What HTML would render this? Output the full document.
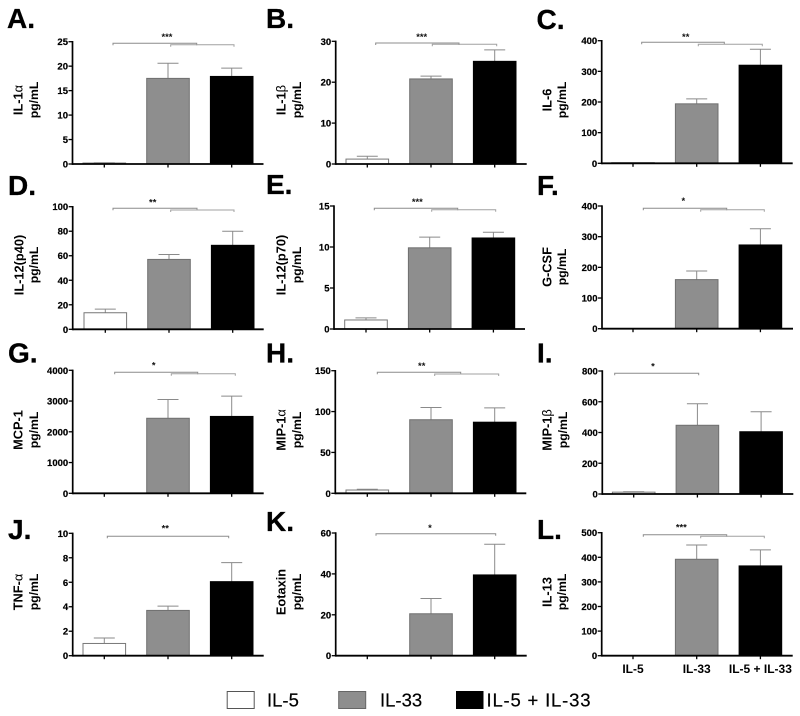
<!DOCTYPE html>
<html lang="en">
<head>
<meta charset="utf-8">
<title>Cytokine panels</title>
<style>
html,body{margin:0;padding:0;background:#fff;}
body{width:800px;height:716px;overflow:hidden;}
svg{display:block;filter:blur(0.35px);}
text{font-family:"Liberation Sans",Arial,sans-serif;}
</style>
</head>
<body>
<svg id="figure" xmlns="http://www.w3.org/2000/svg" width="800" height="716" viewBox="0 0 800 716">
  <rect x="0" y="0" width="800" height="716" fill="#fff"/>
  <g>
    <g>
      <rect x="227.2" y="691.5" width="27" height="17" fill="#fff" stroke="#555" stroke-width="1"/>
      <text x="267" y="706.5" font-size="18.5" fill="#000" stroke="#000" stroke-width="0.2">IL-5</text>
    </g>
    <g>
      <rect x="338.7" y="691.5" width="27" height="17" fill="#8e8e8e" stroke="#666" stroke-width="1"/>
      <text x="380" y="706.5" font-size="18.5" fill="#000" stroke="#000" stroke-width="0.2">IL-33</text>
    </g>
    <g>
      <rect x="456" y="691" width="27.5" height="18" fill="#000"/>
      <text x="486.5" y="706.5" font-size="18.5" fill="#000" stroke="#000" stroke-width="0.2" textLength="104" lengthAdjust="spacing">IL-5 + IL-33</text>
    </g>
  </g>
</svg>
<script>
// ---- chart data ----
const panelLetters = ["A.","B.","C.","D.","E.","F.","G.","H.","I.","J.","K.","L."];
const analyteNames = ["IL-1α","IL-1β","IL-6","IL-12(p40)","IL-12(p70)","G-CSF","MCP-1","MIP-1α","MIP-1β","TNF-α","Eotaxin","IL-13"];
const unitLabel = "pg/mL";
const categories = ["IL-5","IL-33","IL-5 + IL-33"];
const tickLabels = [
  [0,5,10,15,20,25],
  [0,10,20,30],
  [0,100,200,300,400],
  [0,20,40,60,80,100],
  [0,5,10,15],
  [0,100,200,300,400],
  [0,1000,2000,3000,4000],
  [0,50,100,150],
  [0,200,400,600,800],
  [0,2,4,6,8,10],
  [0,20,40,60],
  [0,100,200,300,400,500]
];
const meanIL5   = [0.2,1.2,2,13.5,1.1,0,0,4,12,1,0,0];
const meanIL33  = [17.5,20.8,194,57,9.9,160,2440,90,447,3.7,20.5,392];
const meanCombo = [17.9,25.1,320,68.5,11.1,273,2500,87,405,6.05,39.5,365];
const semIL5    = [0.05,0.7,0,3,0.25,0,0,1,3,0.45,0,0];
const semIL33   = [3.1,0.7,16,4,1.3,28,610,15,140,0.35,7.5,58];
const semCombo  = [1.7,2.8,52,11.5,0.7,53,660,17.5,130,1.55,15,65];
const significance = ["***","***","**","**","***","*","*","**","*","**","*","***"];

// ---- layout (not data) ----
const axisLeft  = [72.5,335.7,601.7,72.7,334,602,72.7,335.3,602.3,72.7,335.7,601.7];
const firstTick = [104.3,367.3,633,105.3,366,633,104.3,367.3,633.7,104.3,367.3,633];
const axisTop   = [41.7,41.3,40.7,206.7,206,206,370.3,370.7,371,533.3,533,532.7];
const axisBase  = [164,164,163.3,329.3,329,328.7,493.3,493.3,494,655.7,655.7,655.7];
const titleLine1X = [18,281,547,19,281,547,18,281,547,18,281,547];
const titleLine2X = [34,297,562,34,297,562,34,297,563,34,297,562];
const titleMidY = [100,100,100,265,265,267,430,430,430,592,592,592];
const letterX = [7,266,536.5,8,266,537,8,266,537,8,266,537];
const letterY = [28,28,29,195,194,195,362.7,362.7,362.7,539,531,539];
const starX = [167,421.7,685.7,152.7,417.3,683.3,153.7,421.7,653,165.3,430,681.3];
const starY = [35,35,35,200.7,200,199,363.7,364,364.5,526.7,526,525.7];
const brackets = [
  [[113,196.7,43.3],[170.7,234,44.7]],
  [[375.7,459,43],[432.3,496.7,44.3]],
  [[641.7,724.3,42.3],[698.3,762.3,44.3]],
  [[113,197,208.3],[170.7,234,210]],
  [[374.3,457.7,208.3],[431.7,495.7,209.7]],
  [[643.3,726.7,208.3],[700.7,764.3,209.7]],
  [[114.7,197.7,372.3],[171.3,235.3,373.7]],
  [[377.3,460.7,372.3],[434.7,498.7,374]],
  [[614.7,698.7,373.3]],
  [[107.3,228.7,536.3]],
  [[376,495.7,533.7]],
  [[643.3,726.7,534.7],[700.7,764.3,536.3]]
];
const categorySpacing = 63.7;
const barWidth = 42.6;
const capWidth = 21;
const axisLength = 191;
const barFill = ["#fff","#8e8e8e","#000"];
const barStroke = ["#777","#6f6f6f","#000"];

const NS = "http://www.w3.org/2000/svg";
const svg = document.getElementById("figure");

function make(tag, attrs, parent) {
  const el = document.createElementNS(NS, tag);
  for (const k in attrs) el.setAttribute(k, attrs[k]);
  parent.appendChild(el);
  return el;
}
function yScale(p, v) {
  const max = tickLabels[p][tickLabels[p].length - 1];
  return axisBase[p] - (v / max) * (axisBase[p] - axisTop[p]);
}
function xScale(p, i) {
  return firstTick[p] + categorySpacing * i;
}
function fillTitle(el, label) {
  // Greek letters are set in a lighter weight, as in the source figure
  label.split(/([αβ])/).forEach(function (part) {
    if (!part) return;
    const t = document.createElementNS(NS, "tspan");
    if (part === "α" || part === "β") t.setAttribute("font-weight", "normal");
    t.textContent = part;
    el.appendChild(t);
  });
}

panelLetters.forEach(function (letter, p) {
  const slug = letter.charAt(0).toLowerCase();
  const g = make("g", {}, svg);
  
  

  const letterEl = make("text", {x: letterX[p], y: letterY[p], "font-size": 28, "font-weight": "bold", fill: "#000", stroke: "#000", "stroke-width": 0.3}, g);
  
  
  letterEl.textContent = letter;

  // y-axis title (two lines)
  const t1 = make("text", {transform: "translate(" + (titleLine1X[p] + 4.5) + "," + titleMidY[p] + ") rotate(-90)", "text-anchor": "middle", "font-size": 12.8, "font-weight": "bold", fill: "#000"}, g);
  
  
  fillTitle(t1, analyteNames[p]);
  const t2 = make("text", {transform: "translate(" + (titleLine2X[p] + 4) + "," + titleMidY[p] + ") rotate(-90)", "text-anchor": "middle", "font-size": 12.2, "font-weight": "bold", fill: "#000"}, g);
  
  
  t2.textContent = unitLabel;

  // series
  const means = [meanIL5[p], meanIL33[p], meanCombo[p]];
  const sems = [semIL5[p], semIL33[p], semCombo[p]];
  means.forEach(function (m, i) {
    if (m <= 0) return;
    const cx = xScale(p, i);
    const yM = yScale(p, m);
    const yE = yScale(p, m + sems[i]);
    const y0 = axisBase[p];
    if (sems[i] > 0) {
      const stem = make("line", {x1: cx, x2: cx, y1: yM, y2: yE, stroke: "#8a8a8a", "stroke-width": 1}, g);
      
      
      const cap = make("line", {x1: cx - capWidth / 2, x2: cx + capWidth / 2, y1: yE, y2: yE, stroke: "#8a8a8a", "stroke-width": 1}, g);
      
      
    }
    const bar = make("rect", {x: cx - barWidth / 2, y: yM, width: barWidth, height: Math.max(y0 - yM, 0.5), fill: barFill[i], stroke: barStroke[i], "stroke-width": 1}, g);
    
    
  });

  // y axis + ticks
  const yAxis = make("line", {x1: axisLeft[p], x2: axisLeft[p], y1: axisTop[p] - 0.7, y2: axisBase[p] + 0.9, stroke: "#000", "stroke-width": 1.7}, g);
  
  
  tickLabels[p].forEach(function (v) {
    const y = yScale(p, v);
    const tick = make("line", {x1: axisLeft[p] - 4, x2: axisLeft[p], y1: y, y2: y, stroke: "#000", "stroke-width": 1.3}, g);
    
    
    const lab = make("text", {x: axisLeft[p] - 4.5, y: y + 3.5, "text-anchor": "end", "font-size": 9.5, "font-weight": "bold", fill: "#000", stroke: "#000", "stroke-width": 0.2}, g);
    
    
    lab.textContent = v;
  });

  // x axis + ticks
  const xAxis = make("line", {x1: axisLeft[p], x2: axisLeft[p] + axisLength, y1: axisBase[p], y2: axisBase[p], stroke: "#000", "stroke-width": 1.8}, g);
  
  
  categories.forEach(function (c, i) {
    const x = xScale(p, i);
    const tick = make("line", {x1: x, x2: x, y1: axisBase[p], y2: axisBase[p] + 3.5, stroke: "#000", "stroke-width": 1.3}, g);
    
    
    if (p === panelLetters.length - 1) {
      const lab = make("text", {x: x, y: axisBase[p] + 17.5, "text-anchor": "middle", "font-size": 12, "font-weight": "bold", fill: "#000"}, g);
      
      
      lab.textContent = c;
    }
  });

  // significance brackets and stars
  brackets[p].forEach(function (b, k) {
    const d = "M" + b[0] + " " + (b[2] + 2) + "V" + b[2] + "H" + b[1] + "V" + (b[2] + 2);
    const path = make("path", {d: d, fill: "none", stroke: k === 0 ? "#8c8c8c" : "#a0a0a0", "stroke-width": 1}, g);
    
    
  });
  const star = make("text", {x: starX[p], y: starY[p] + 5, "text-anchor": "middle", "font-size": 9.4, "font-weight": "bold", fill: "#111"}, g);
  
  
  star.textContent = significance[p];
});
</script>
</body>
</html>
